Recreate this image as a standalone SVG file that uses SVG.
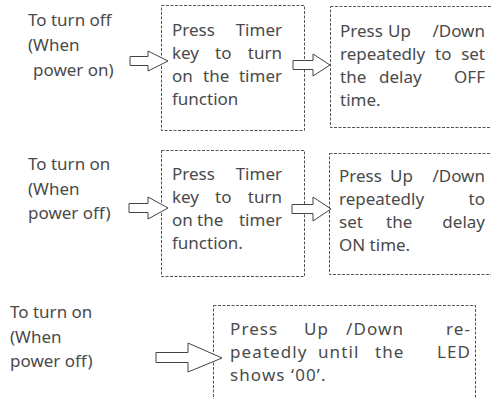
<svg xmlns="http://www.w3.org/2000/svg" width="491" height="399" viewBox="0 0 491 399">
<style>
text{font-family:"Noto Sans","Open Sans",sans-serif;font-size:17px;fill:#4a4a4a}
.box{fill:none;stroke:#555;stroke-width:1;stroke-dasharray:3 1.5}
.arr{fill:#fff;stroke:#444;stroke-width:1;stroke-linejoin:miter}
.e{text-anchor:end}
.ls{letter-spacing:1.1px}
</style>
<rect width="491" height="399" fill="#fff"/>
<g id="label1">
<text x="28" y="26">To turn off</text>
<text x="28" y="51">(When</text>
<text x="33" y="76">power on)</text>
</g>
<g id="box1">
<rect class="box" x="161.5" y="5.5" width="143" height="125"/>
<text y="36"><tspan x="172">Press</tspan><tspan x="282" class="e">Timer</tspan></text>
<text y="59"><tspan x="172">key</tspan><tspan x="215">to</tspan><tspan x="282" class="e">turn</tspan></text>
<text y="82"><tspan x="172">on</tspan><tspan x="203">the</tspan><tspan x="282" class="e">timer</tspan></text>
<text x="172" y="105">function</text>
</g>
<g id="box2">
<rect class="box" x="330.5" y="6.5" width="170" height="121"/>
<text y="37"><tspan x="340">Press</tspan><tspan x="388">Up</tspan><tspan x="485" class="e">/Down</tspan></text>
<text y="60"><tspan x="340">repeatedly</tspan><tspan x="435">to</tspan><tspan x="485" class="e">set</tspan></text>
<text y="83"><tspan x="340">the</tspan><tspan x="379">delay</tspan><tspan x="485" class="e">OFF</tspan></text>
<text x="340" y="106">time.</text>
</g>
<g id="label2">
<text x="28" y="170">To turn on</text>
<text x="28" y="195">(When</text>
<text x="28" y="219">power off)</text>
</g>
<g id="box3">
<rect class="box" x="161.5" y="150.5" width="143" height="126"/>
<text y="180"><tspan x="172">Press</tspan><tspan x="282" class="e">Timer</tspan></text>
<text y="203"><tspan x="172">key</tspan><tspan x="215">to</tspan><tspan x="282" class="e">turn</tspan></text>
<text y="226"><tspan x="172">on</tspan><tspan x="197">the</tspan><tspan x="282" class="e">timer</tspan></text>
<text x="172" y="249">function.</text>
</g>
<g id="box4">
<rect class="box" x="329.5" y="153.5" width="170" height="121"/>
<text y="182"><tspan x="339">Press</tspan><tspan x="390">Up</tspan><tspan x="485" class="e">/Down</tspan></text>
<text y="205"><tspan x="339">repeatedly</tspan><tspan x="485" class="e">to</tspan></text>
<text y="228"><tspan x="339">set</tspan><tspan x="386">the</tspan><tspan x="485" class="e">delay</tspan></text>
<text x="339" y="251">ON time.</text>
</g>
<g id="label3">
<text x="10" y="318">To turn on</text>
<text x="10" y="343">(When</text>
<text x="10" y="367">power off)</text>
</g>
<g id="box5">
<rect class="box" x="213.5" y="305.5" width="262" height="110"/>
<text class="ls" y="335"><tspan x="230">Press</tspan><tspan x="304">Up</tspan><tspan x="346">/Down</tspan><tspan x="471" class="e">re-</tspan></text>
<text class="ls" y="358"><tspan x="230">peatedly</tspan><tspan x="318">until</tspan><tspan x="375">the</tspan><tspan x="471" class="e">LED</tspan></text>
<text class="ls" x="230" y="381">shows ‘00’.</text>
</g>
<g id="connectors">
<polygon class="arr" points="130,56.5 148,56.5 148,51 168,61 148,71 148,65.5 130,65.5"/>
<polygon class="arr" points="293,60.5 313,60.5 313,54 330,65 313,76 313,69.5 293,69.5"/>
<polygon class="arr" points="129,203.5 148,203.5 148,197 168,208 148,219 148,212.5 129,212.5"/>
<polygon class="arr" points="292,204.5 313,204.5 313,197 331,209 313,221 313,213.5 292,213.5"/>
<polygon class="arr" points="156,352.5 188,352.5 188,343 222,358 188,372 188,362.5 156,362.5"/>
</g>
</svg>
